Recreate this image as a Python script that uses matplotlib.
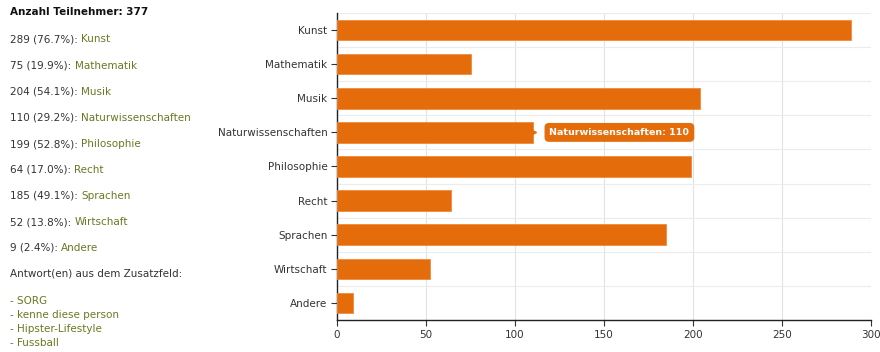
import matplotlib
matplotlib.use("Agg")
import matplotlib.pyplot as plt

categories = ["Kunst", "Mathematik", "Musik", "Naturwissenschaften", "Philosophie",
              "Recht", "Sprachen", "Wirtschaft", "Andere"]
counts = [289, 75, 204, 110, 199, 64, 185, 52, 9]
percents = ["76.7%", "19.9%", "54.1%", "29.2%", "52.8%", "17.0%", "49.1%", "13.8%", "2.4%"]
total = 377
extra_answers = ["SORG", "kenne diese person", "Hipster-Lifestyle", "Fussball"]
xticks = [0, 50, 100, 150, 200, 250, 300]
highlight = "Naturwissenschaften"

BAR = "#e46c0a"
DARK = "#333333"
OLIVE = "#667a22"

plt.rcParams['font.family'] = ['DejaVu Sans']
fig = plt.figure(figsize=(8.8, 3.52), dpi=100)
ax = fig.add_axes([337/880, 1-320/352, (871-337)/880, (320-13)/352])

ypos = list(range(len(categories)))
ax.barh(ypos, counts, height=0.6, color=BAR, edgecolor="#f08a3a", linewidth=0.6, zorder=3)
ax.set_ylim(len(categories)-0.5, -0.5)
ax.set_xlim(0, 300)
ax.set_yticks(ypos)
ax.set_yticklabels(categories, fontsize=7.5, color=DARK)
ax.set_xticks(xticks)
ax.set_xticklabels([str(v) for v in xticks], fontsize=7.5, color=DARK)
ax.set_yticks([i + 0.5 for i in range(-1, len(categories))], minor=True)
ax.grid(True, axis='x', which='major', color="#e2e2e2", linewidth=0.8, zorder=0)
ax.grid(True, axis='y', which='minor', color="#ececec", linewidth=0.8, zorder=0)
ax.tick_params(axis='y', which='minor', length=0)
ax.tick_params(axis='y', which='major', length=4, width=0.8, color=DARK, pad=3)
ax.tick_params(axis='x', which='major', length=4, width=0.8, color=DARK, pad=3)
for s in ["top", "right"]:
    ax.spines[s].set_visible(False)
for s in ["left", "bottom"]:
    ax.spines[s].set_color("#222222")
    ax.spines[s].set_linewidth(1.0)

# tooltip
hi = categories.index(highlight)
ax.annotate(f"{highlight}: {counts[hi]}", xy=(counts[hi], hi), xytext=(12, 0),
            textcoords="offset points", ha="left", va="center", fontsize=6.8, color="white",
            fontweight="bold",
            bbox=dict(boxstyle="round,pad=0.45,rounding_size=0.4", fc=BAR, ec=BAR),
            zorder=5)
ax.plot([counts[hi]], [hi], marker=">", color=BAR, markersize=5, zorder=4, clip_on=False)

# left text
fig.canvas.draw()
renderer = fig.canvas.get_renderer()
fs = 7.5
fig.text(10/880, 1-12/352, f"Anzahl Teilnehmer: {total}", fontsize=fs, fontweight="bold",
         color="#111111", va="center", ha="left")
line_y = [39, 66, 92, 118, 144, 170, 196, 222, 248]
for cat, c, p, yy in zip(categories, counts, percents, line_y):
    t = fig.text(10/880, 1-yy/352, f"{c} ({p}): ", fontsize=fs, color=DARK, va="center", ha="left")
    bb = t.get_window_extent(renderer=renderer)
    fig.text(bb.x1/880, 1-yy/352, cat, fontsize=fs, color=OLIVE, va="center", ha="left")
fig.text(10/880, 1-274/352, "Antwort(en) aus dem Zusatzfeld:", fontsize=fs, color=DARK,
         va="center", ha="left")
for i, a in enumerate(extra_answers):
    fig.text(10/880, 1-(301+14*i)/352, f"- {a}", fontsize=fs, color=OLIVE, va="center", ha="left")

fig.savefig("out.png", dpi=100, facecolor="white")
